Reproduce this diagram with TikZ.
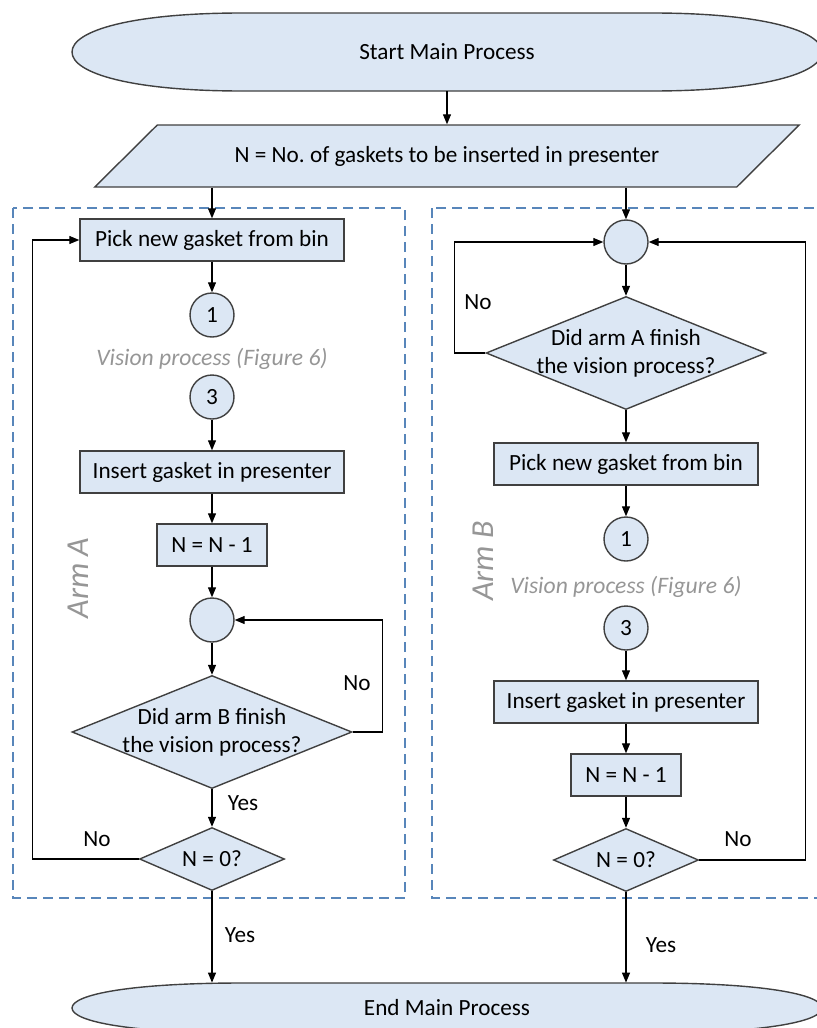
\documentclass[tikz,border=0pt]{standalone}
\usepackage{fontspec}
\setmainfont{Carlito}
\usepackage{tikz}
\usetikzlibrary{arrows.meta,
                calc,
                positioning,
                shapes.geometric}
\frenchspacing

\definecolor{boxfill}{RGB}{220,231,244}
\definecolor{boxline}{RGB}{64,64,64}
\definecolor{armline}{RGB}{88,134,186}
\definecolor{notegray}{RGB}{150,150,150}

\tikzset{
  txt/.style={font=\fontsize{11.6}{14}\selectfont},
  box/.style={txt, draw=boxline, fill=boxfill, line width=0.7pt,
              minimum width=132pt, minimum height=21pt, inner sep=0pt},
  smallbox/.style={box, minimum width=55pt},
  joint/.style={txt, circle, draw=boxline, fill=boxfill, line width=0.7pt,
                minimum size=22pt, inner sep=0pt},
  bigdec/.style={txt, diamond, draw=boxline, fill=boxfill, line width=0.7pt,
                 aspect=2.48, minimum width=140pt, minimum height=56.5pt,
                 inner sep=-8pt, align=center},
  smalldec/.style={txt, diamond, draw=boxline, fill=boxfill, line width=0.7pt,
                   aspect=2.3, minimum width=72.5pt, minimum height=31.5pt,
                   inner sep=0pt},
  inputbox/.style={txt, trapezium, trapezium left angle=23.7,
                   trapezium right angle=156.3, trapezium stretches=true,
                   draw=boxline, fill=boxfill, line width=0.7pt,
                   minimum width=353.5pt, minimum height=31pt, inner sep=0pt},
  term/.style={txt, minimum width=375pt, inner sep=0pt},
  vision/.style={text=notegray, font=\fontsize{11.8}{14}\selectfont\itshape},
  armlabel/.style={text=notegray, font=\fontsize{16}{18}\selectfont\itshape, rotate=90},
  armframe/.style={draw=armline, line width=1pt, dash pattern=on 5pt off 3pt},
  arr/.style={-{Triangle[length=5pt,width=4pt]}, line width=0.6pt},
}

% oval end of the main process: centre x, centre y, half height
\newcommand{\termoval}[3]{%
  \filldraw[draw=boxline, fill=boxfill, line width=0.7pt]
    (#1-375,#2) .. controls (#1-375,#2-0.55*#3) and (#1-315,#2-#3) .. (#1-205,#2-#3)
    -- (#1+205,#2-#3) .. controls (#1+315,#2-#3) and (#1+375,#2-0.55*#3) .. (#1+375,#2)
    .. controls (#1+375,#2+0.55*#3) and (#1+315,#2+#3) .. (#1+205,#2+#3)
    -- (#1-205,#2+#3) .. controls (#1-315,#2+#3) and (#1-375,#2+0.55*#3) .. (#1-375,#2)
    -- cycle;}

\begin{document}
\begin{tikzpicture}[x=0.5pt,y=-0.5pt]
\useasboundingbox (0,0) rectangle (817,1028);
\clip (0,0) rectangle (817,1028);

% frames of the two arms
\draw[armframe] (13,208) rectangle (405,898);
\draw[armframe] (432,208) rectangle (845,898);
\node[armlabel] (armA) at (78,578) {Arm A};
\node[armlabel] (armB) at (483,561) {Arm B};

% start / end
\termoval{447}{52}{39}
\termoval{447}{1008}{25}
\node[term, minimum height=39pt] (start) at (447,52) {Start Main Process};
\node[term, minimum height=25pt] (stop) at (447,1008) {End Main Process};
\node[inputbox] (count) at (447,156) {N = No. of gaskets to be inserted in presenter};

% arm A
\node[box] (pickA) at (212,240) {Pick new gasket from bin};
\node[joint] (oneA) at (212,315) {1};
\node[vision] (visA) at (212,359) {Vision process (Figure 6)};
\node[joint] (threeA) at (212,397) {3};
\node[box] (insA) at (212,472) {Insert gasket in presenter};
\node[smallbox] (decA) at (212,545) {N = N - 1};
\node[joint] (waitA) at (212,620) {};
\node[bigdec] (askA) at (212,732) {Did arm B finish\\the vision process?};
\node[smalldec] (zeroA) at (212,859) {N = 0?};

% arm B
\node[joint] (waitB) at (626,242) {};
\node[bigdec] (askB) at (626,353) {Did arm A finish\\the vision process?};
\node[box] (pickB) at (626,464) {Pick new gasket from bin};
\node[joint] (oneB) at (626,539) {1};
\node[vision] (visB) at (626,587) {Vision process (Figure 6)};
\node[joint] (threeB) at (626,628) {3};
\node[box] (insB) at (626,702) {Insert gasket in presenter};
\node[smallbox] (decB) at (626,775) {N = N - 1};
\node[smalldec] (zeroB) at (626,860) {N = 0?};

% straight flow
\draw[arr] (start) -- (count);
\draw[arr] (pickA |- count.south) -- (pickA);
\draw[arr] (waitB |- count.south) -- (waitB);
\foreach \a/\b in {pickA/oneA, threeA/insA, insA/decA, decA/waitA, waitA/askA, askA/zeroA,
                   waitB/askB, askB/pickB, pickB/oneB, threeB/insB, insB/decB, decB/zeroB}
  \draw[arr] (\a) -- (\b);
\draw[arr] (zeroA.south) -- (zeroA |- stop.north);
\draw[arr] (zeroB.south) -- (zeroB |- stop.north);

% loops back
\draw[arr] (zeroA.west) -- ++(-106,0) |- (pickA.west);
\draw[arr] (askA.east) -- ++(30,0) |- (waitA.east);
\draw[arr] (askB.west) -- ++(-31,0) |- (waitB.west);
\draw[arr] (zeroB.east) -- ++(106,0) |- (waitB.east);

\foreach \n/\x/\y in {noA/97/839, noB/357/683, noC/478/302, noD/738/839}
  \node[txt] (\n) at (\x,\y) {No};
\foreach \n/\x/\y in {yesA/243/803, yesB/240/935, yesC/661/945}
  \node[txt] (\n) at (\x,\y) {Yes};
\end{tikzpicture}
\end{document}
